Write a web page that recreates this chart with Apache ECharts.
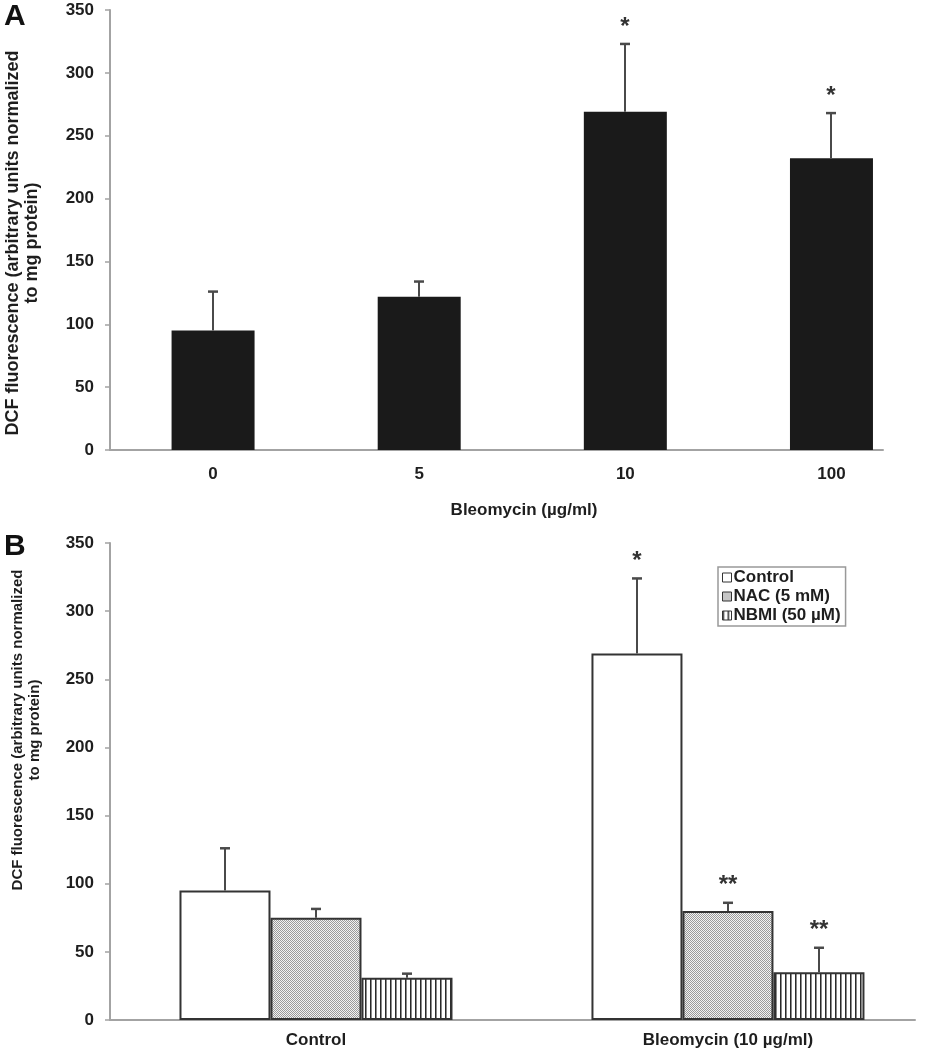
<!DOCTYPE html>
<html>
<head>
<meta charset="utf-8">
<script src="https://cdn.jsdelivr.net/npm/echarts@6/dist/echarts.min.js"></script>
<style>
html,body{margin:0;padding:0;background:#fff;}
#c{width:930px;height:1050px;}
</style>
</head>
<body>
<div id="c"></div>
<script>
// ---------- Panel A data ----------
const doseCategories = ['0', '5', '10', '100'];
const doseMeans = [95, 122, 269, 232];
const doseErrors = [31, 12, 54, 36];
const doseSig = ['', '', '*', '*'];

// ---------- Panel B data ----------
const groupCategories = ['Control', 'Bleomycin (10 µg/ml)'];
const treatmentNames = ['Control', 'NAC (5 mM)', 'NBMI (50 µM)'];
const controlMeans = [95, 269];
const controlErrors = [31, 55];
const controlSig = ['', '*'];
const nacMeans = [75, 80];
const nacErrors = [6.5, 6];
const nacSig = ['', '**'];
const nbmiMeans = [31, 35];
const nbmiErrors = [3, 18];
const nbmiSig = ['', '**'];

// ---------- Axis ticks ----------
const yMin = 0, yMax = 350, yStep = 50;

const yTitle = 'DCF fluorescence (arbitrary units normalized\nto mg protein)';
const xTitleA = 'Bleomycin (µg/ml)';

const FONT = '"Liberation Sans", Arial, Helvetica, sans-serif';
const TXT = '#1e1e1e';
const AXIS = '#a3a3a3';

function dotPattern() {
  const c = document.createElement('canvas');
  c.width = 2; c.height = 2;
  const g = c.getContext('2d');
  g.fillStyle = '#f2f2f2'; g.fillRect(0, 0, 2, 2);
  g.fillStyle = '#9a9a9a'; g.fillRect(0, 0, 1, 1); g.fillRect(1, 1, 1, 1);
  return c;
}
function stripePattern() {
  const c = document.createElement('canvas');
  c.width = 5; c.height = 4;
  const g = c.getContext('2d');
  g.fillStyle = '#ffffff'; g.fillRect(0, 0, 5, 4);
  g.fillStyle = '#2a2a2a'; g.fillRect(0, 0, 1, 4);
  g.fillStyle = '#8a8a8a'; g.fillRect(1, 0, 1, 4);
  return c;
}

const BAR_W_A = 83;
const BAR_W_B = 91;

function errRender(sigs, offsetBars, barW) {
  return function (params, api) {
    const x = api.value(0), v = api.value(1), e = api.value(2);
    const p0 = api.coord([x, v]);
    const p1 = api.coord([x, v + e]);
    const cx = Math.round(p0[0] + offsetBars * barW);
    const children = [
      { type: 'line', shape: { x1: cx, y1: p0[1], x2: cx, y2: p1[1] },
        style: { stroke: '#4a4a4a', lineWidth: 2 } },
      { type: 'line', shape: { x1: cx - 5, y1: p1[1], x2: cx + 5, y2: p1[1] },
        style: { stroke: '#4a4a4a', lineWidth: 2.5 } }
    ];
    const s = sigs[params.dataIndex];
    if (s) {
      children.push({ type: 'text', style: {
        text: s, x: cx, y: p1[1] - 5, align: 'center', verticalAlign: 'bottom',
        font: 'bold 24px ' + FONT, fill: '#333' } });
    }
    return { type: 'group', children: children };
  };
}

function catFormatter(cats) {
  return function (val) {
    const r = Math.round(val);
    if (Math.abs(val - r) < 1e-6 && r >= 0 && r < cats.length) return cats[r];
    return '';
  };
}

const yAxisCommon = {
  type: 'value', min: yMin, max: yMax, interval: yStep,
  axisLine: { show: true, onZero: false, lineStyle: { color: AXIS, width: 2 } },
  axisTick: { show: true, length: 5, lineStyle: { color: AXIS, width: 1.5 } },
  axisLabel: { margin: 16, color: TXT, fontSize: 17, fontWeight: 'bold', fontFamily: FONT },
  splitLine: { show: false }
};

const chart = echarts.init(document.getElementById('c'), null, { renderer: 'canvas' });

const option = {
  animation: false,
  backgroundColor: '#ffffff',
  grid: [
    { left: 110, top: 10, width: 773, height: 440 },
    { left: 110, top: 543, width: 805, height: 477 }
  ],
  xAxis: [
    { gridIndex: 0, type: 'value', min: -0.5, max: 3.25, interval: 0.5,
      axisLine: { show: true, onZero: false, lineStyle: { color: AXIS, width: 2 } },
      axisTick: { show: false }, splitLine: { show: false },
      axisLabel: { margin: 16, color: TXT, fontSize: 17, fontWeight: 'bold', fontFamily: FONT,
        formatter: catFormatter(doseCategories) },
      name: xTitleA, nameLocation: 'middle', nameGap: 52,
      nameTextStyle: { color: TXT, fontSize: 17, fontWeight: 'bold', fontFamily: FONT, padding: [0, 0, 0, 55] } },
    { gridIndex: 1, type: 'value', min: -0.5, max: 1.454, interval: 0.5,
      axisLine: { show: true, onZero: false, lineStyle: { color: AXIS, width: 2 } },
      axisTick: { show: false }, splitLine: { show: false },
      axisLabel: { margin: 12, color: TXT, fontSize: 17, fontWeight: 'bold', fontFamily: FONT,
        formatter: catFormatter(groupCategories) } }
  ],
  yAxis: [
    Object.assign({ gridIndex: 0 }, yAxisCommon),
    Object.assign({ gridIndex: 1 }, yAxisCommon)
  ],
  legend: {
    data: treatmentNames,
    orient: 'vertical', left: 718, top: 567,
    itemWidth: 9, itemHeight: 9, itemGap: 2,
    padding: [2, 5, 2, 4],
    borderColor: '#999', borderWidth: 1.5,
    icon: 'rect',
    itemStyle: { borderColor: '#333', borderWidth: 1 },
    textStyle: { color: TXT, fontSize: 17, fontWeight: 'bold', fontFamily: FONT, padding: [0, 0, 0, -3] }
  },
  graphic: [
    { type: 'text', x: 4, y: 2, style: { text: 'A', font: 'bold 30px ' + FONT, fill: '#111' } },
    { type: 'text', x: 4, y: 532, style: { text: 'B', font: 'bold 30px ' + FONT, fill: '#111' } },
    { type: 'text', x: 23, y: 243, rotation: Math.PI / 2,
      style: { text: yTitle, align: 'center', verticalAlign: 'middle', lineHeight: 19,
        font: 'bold 18px ' + FONT, fill: TXT } },
    { type: 'text', x: 26, y: 730, rotation: Math.PI / 2,
      style: { text: yTitle, align: 'center', verticalAlign: 'middle', lineHeight: 17,
        font: 'bold 15px ' + FONT, fill: TXT } }
  ],
  series: [
    { name: 'Bleomycin dose', type: 'bar', xAxisIndex: 0, yAxisIndex: 0,
      barWidth: BAR_W_A,
      data: doseMeans.map((m, i) => [i, m]),
      itemStyle: { color: '#1a1a1a' } },
    { type: 'custom', xAxisIndex: 0, yAxisIndex: 0, z: 5,
      renderItem: errRender(doseSig, 0, BAR_W_A),
      data: doseMeans.map((m, i) => [i, m, doseErrors[i]]) },

    { name: treatmentNames[0], type: 'bar', xAxisIndex: 1, yAxisIndex: 1,
      barWidth: BAR_W_B, barGap: '0%',
      data: controlMeans.map((m, i) => [i, m]),
      itemStyle: { color: '#ffffff', borderColor: '#333', borderWidth: 2 } },
    { name: treatmentNames[1], type: 'bar', xAxisIndex: 1, yAxisIndex: 1,
      barWidth: BAR_W_B, barGap: '0%',
      data: nacMeans.map((m, i) => [i, m]),
      itemStyle: { color: { image: dotPattern(), repeat: 'repeat' }, borderColor: '#333', borderWidth: 2 } },
    { name: treatmentNames[2], type: 'bar', xAxisIndex: 1, yAxisIndex: 1,
      barWidth: BAR_W_B, barGap: '0%',
      data: nbmiMeans.map((m, i) => [i, m]),
      itemStyle: { color: { image: stripePattern(), repeat: 'repeat' }, borderColor: '#333', borderWidth: 2 } },

    { type: 'custom', xAxisIndex: 1, yAxisIndex: 1, z: 5,
      renderItem: errRender(controlSig, -1, BAR_W_B),
      data: controlMeans.map((m, i) => [i, m, controlErrors[i]]) },
    { type: 'custom', xAxisIndex: 1, yAxisIndex: 1, z: 5,
      renderItem: errRender(nacSig, 0, BAR_W_B),
      data: nacMeans.map((m, i) => [i, m, nacErrors[i]]) },
    { type: 'custom', xAxisIndex: 1, yAxisIndex: 1, z: 5,
      renderItem: errRender(nbmiSig, 1, BAR_W_B),
      data: nbmiMeans.map((m, i) => [i, m, nbmiErrors[i]]) }
  ]
};
chart.setOption(option);
</script>
</body>
</html>
